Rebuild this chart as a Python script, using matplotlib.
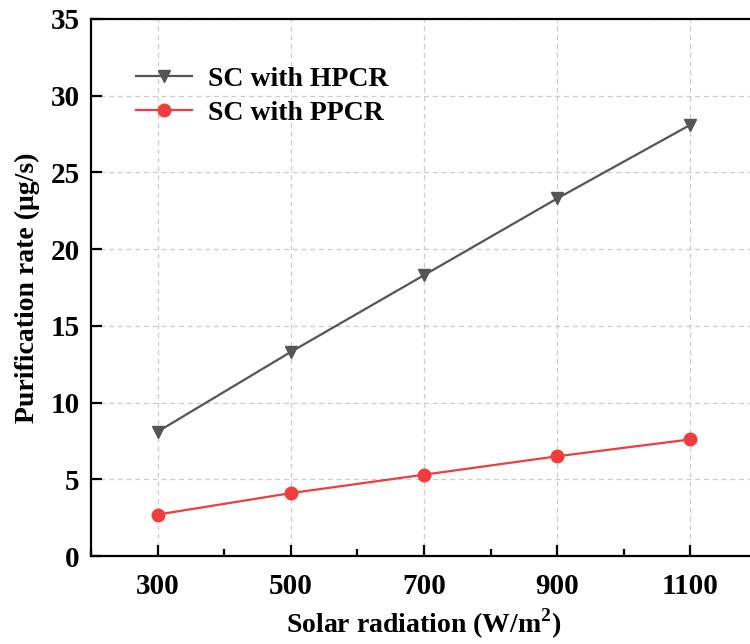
import numpy as np
import matplotlib.pyplot as plt
from matplotlib.ticker import MultipleLocator

radiation = [300, 500, 700, 900, 1100]
hpcr = [8.1, 13.3, 18.3, 23.3, 28.1]
ppcr = [2.7, 4.1, 5.3, 6.5, 7.6]

plt.rcParams['font.family'] = ['Liberation Serif', 'DejaVu Serif']
plt.rcParams['font.weight'] = 'bold'
plt.rcParams['mathtext.fontset'] = 'custom'
plt.rcParams['mathtext.rm'] = 'Liberation Serif:bold'
plt.rcParams['mathtext.bf'] = 'Liberation Serif:bold'

fig = plt.figure(figsize=(7.5, 6.44), dpi=100)
ax = fig.add_axes([0.1213, 0.1366, 0.888, 0.834])

ax.plot(radiation, hpcr, color='#555555', marker='v', markersize=9, lw=1.6,
        label='SC with HPCR')
ax.plot(radiation, ppcr, color='#f03c3c', marker='o', markersize=9, lw=1.6,
        label='SC with PPCR')

ax.set_xlim(200, 1200)
ax.set_ylim(0, 35)
ax.set_xticks(radiation)
ax.xaxis.set_minor_locator(MultipleLocator(100))
ax.yaxis.set_major_locator(MultipleLocator(5))

ax.grid(True, which='major', color='#cccccc', linestyle=(0, (4, 3)), lw=0.9)
ax.set_axisbelow(True)

for s in ax.spines.values():
    s.set_linewidth(1.6)
ax.spines['right'].set_visible(False)

ax.tick_params(which='major', direction='in', length=8, width=1.6,
               labelsize=21, pad=8)
ax.tick_params(which='minor', direction='in', length=5, width=1.6)
ax.tick_params(axis='x', pad=12)

ax.set_xlabel(r'Solar radiation (W/m$^{\mathbf{2}}$)', fontsize=20, fontweight='bold', labelpad=5)
ax.set_ylabel('Purification rate (μg/s)', fontsize=20, fontweight='bold', labelpad=8)

ax.legend(loc='upper left', bbox_to_anchor=(0.03, 0.958), frameon=False,
          fontsize=20, handlelength=2.0, handletextpad=0.6, labelspacing=0.3)

fig.savefig('out.png', dpi=100)
